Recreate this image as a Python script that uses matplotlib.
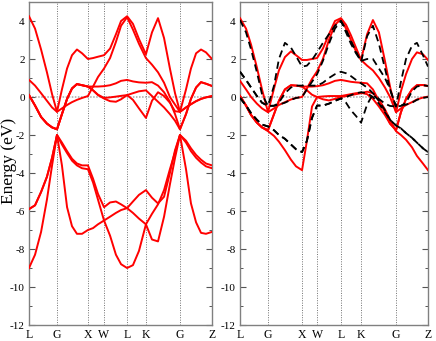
import numpy as np
import matplotlib
matplotlib.use('Agg')
import matplotlib.pyplot as plt

plt.rcParams['font.family'] = ['Liberation Serif', 'DejaVu Serif']
plt.rcParams['axes.unicode_minus'] = False

# ---------------- data ----------------
kpt_labels = ['L', 'G', 'X', 'W', 'L', 'K', 'G', 'Z']
kpt_left = [0.0, 0.153, 0.322, 0.410, 0.536, 0.639, 0.825, 1.0]
kpt_right = [0.0, 0.149, 0.330, 0.410, 0.537, 0.644, 0.830, 1.0]

k_left = [0.000, 0.033, 0.066, 0.098, 0.126, 0.153, 0.180, 0.208, 0.235, 0.262,
          0.290, 0.322, 0.350, 0.377, 0.410, 0.443, 0.475, 0.503, 0.536, 0.568,
          0.601, 0.639, 0.672, 0.705, 0.738, 0.770, 0.798, 0.825, 0.858, 0.885,
          0.913, 0.940, 0.967, 1.000]

left_b1 = [4.25, 3.6, 2.5, 1.3, 0.15, -0.78, 0.4, 1.5, 2.2, 2.5, 2.3, 2.0, 2.05, 2.12,
           2.2, 2.55, 3.3, 4.0, 4.25, 3.85, 3.05, 2.25, 3.4, 4.15, 3.1, 1.5, 0.2, -0.78,
           0.4, 1.5, 2.3, 2.5, 2.35, 2.0]
left_b2 = [0.9, 0.6, 0.2, -0.2, -0.55, -0.78, -0.6, -0.42, -0.27, -0.15, -0.05, 0.05,
           0.55, 1.05, 1.5, 2.05, 2.9, 3.75, 4.2, 3.55, 2.8, 2.05, 1.7, 1.3, 0.75, 0.0,
           -0.4, -0.78, -0.55, -0.38, -0.22, -0.1, -0.02, 0.05]
left_b3 = [0.1, -0.45, -1.05, -1.4, -1.6, -1.7, -0.9, -0.1, 0.45, 0.68, 0.62, 0.55,
           0.55, 0.55, 0.57, 0.62, 0.72, 0.85, 0.9, 0.82, 0.77, 0.75, 0.78, 0.6, 0.25,
           -0.25, -0.9, -1.7, -0.9, -0.1, 0.5, 0.78, 0.7, 0.58]
left_b4 = [0.1, -0.45, -1.05, -1.4, -1.6, -1.7, -0.9, -0.1, 0.45, 0.68, 0.62, 0.55,
           0.35, 0.1, -0.08, -0.22, -0.25, -0.12, 0.1, -0.15, -0.6, -1.1, -0.2, 0.25,
           0.05, -0.3, -0.75, -0.78, -0.55, -0.38, -0.22, -0.1, -0.02, 0.05]
left_b5 = [0.1, -0.45, -1.05, -1.4, -1.6, -1.7, -0.9, -0.1, 0.45, 0.68, 0.62, 0.55,
           0.35, 0.12, -0.05, -0.02, 0.02, 0.06, 0.1, 0.2, 0.3, 0.35, 0.05, -0.25,
           -0.55, -0.9, -1.25, -1.7, -0.9, -0.1, 0.5, 0.78, 0.7, 0.58]
left_b6 = [-5.9, -5.7, -5.0, -4.2, -3.2, -2.0, -2.4, -2.85, -3.25, -3.5, -3.6, -3.6,
           -4.3, -5.1, -5.8, -5.55, -5.5, -5.65, -5.85, -5.5, -5.15, -4.9, -5.3, -5.6,
           -5.25, -4.0, -2.8, -2.0, -2.3, -2.7, -3.05, -3.3, -3.5, -3.6]
left_b7 = [-5.9, -5.7, -5.0, -4.2, -3.2, -2.0, -2.5, -2.95, -3.35, -3.6, -3.75, -3.8,
           -4.5, -5.4, -6.5, -7.3, -8.3, -8.8, -9.0, -8.85, -8.1, -6.7, -6.15, -5.65,
           -4.9, -3.8, -2.9, -2.0, -2.4, -2.85, -3.2, -3.45, -3.65, -3.75]
left_b8 = [-9.0, -8.3, -7.1, -5.4, -3.6, -2.0, -3.6, -5.8, -6.8, -7.2, -7.2, -7.0,
           -6.9, -6.7, -6.5, -6.3, -6.1, -5.95, -5.85, -6.1, -6.4, -6.7, -7.5, -7.6,
           -6.3, -4.6, -3.2, -2.0, -3.8, -5.6, -6.6, -7.15, -7.2, -7.1]

k_right = [0.000, 0.032, 0.059, 0.090, 0.117, 0.149, 0.181, 0.207, 0.239, 0.271,
           0.298, 0.330, 0.356, 0.383, 0.410, 0.441, 0.473, 0.505, 0.537, 0.564,
           0.590, 0.617, 0.644, 0.676, 0.707, 0.739, 0.771, 0.798, 0.830, 0.856,
           0.883, 0.915, 0.941, 0.973, 1.000]

red_r1 = [4.15, 3.6, 2.75, 1.55, 0.4, -0.8, 0.45, 1.4, 2.1, 2.4, 2.2, 1.95, 1.95, 2.0,
          2.05, 2.55, 3.3, 4.0, 4.15, 3.8, 3.25, 2.6, 1.95, 3.3, 4.05, 3.4, 1.9, 0.55,
          -0.8, 0.3, 1.2, 2.0, 2.35, 2.25, 1.95]
red_r2 = [0.85, 0.4, 0.0, -0.35, -0.6, -0.8, -0.6, -0.42, -0.27, -0.13, -0.05, 0.0,
          0.45, 0.95, 1.35, 2.0, 3.0, 3.8, 4.1, 3.6, 3.0, 2.4, 1.95, 1.65, 1.4, 1.0, 0.5,
          0.0, -0.8, -0.6, -0.42, -0.27, -0.13, -0.03, 0.02]
red_r3 = [0.05, -0.45, -0.95, -1.35, -1.6, -1.75, -0.9, -0.2, 0.4, 0.62, 0.6, 0.55,
          0.55, 0.55, 0.57, 0.62, 0.72, 0.85, 0.9, 0.85, 0.8, 0.77, 0.75, 0.72, 0.4,
          -0.2, -0.8, -1.4, -1.75, -0.8, -0.1, 0.4, 0.62, 0.63, 0.58]
red_r4 = [0.05, -0.45, -0.95, -1.35, -1.6, -1.8, -2.05, -2.35, -2.8, -3.3, -3.65, -3.85,
          -2.3, -0.5, 0.0, -0.12, -0.18, -0.1, 0.0, 0.05, 0.1, 0.15, 0.2, 0.28, 0.2,
          -0.15, -0.65, -1.2, -1.8, -2.0, -2.25, -2.65, -3.1, -3.5, -3.85]
red_r5 = [0.05, -0.45, -0.95, -1.35, -1.6, -1.75, -0.9, -0.2, 0.4, 0.62, 0.6, 0.55,
          0.35, 0.12, 0.0, 0.03, 0.05, 0.05, 0.05, 0.1, 0.15, 0.2, 0.22, 0.15, -0.1,
          -0.5, -0.95, -1.4, -1.75, -0.8, -0.1, 0.4, 0.62, 0.63, 0.58]

dash_r1 = [4.05, 3.4, 2.5, 1.3, 0.15, -0.47, 0.6, 2.0, 2.85, 2.6, 2.15, 1.6, 1.65, 1.95,
           2.35, 2.85, 3.3, 3.75, 4.0, 3.55, 2.95, 2.4, 1.85, 3.2, 3.75, 2.8, 1.5, 0.4,
           -0.5, 0.8, 2.0, 2.7, 2.85, 2.2, 1.6]
dash_r2 = [1.33, 0.9, 0.5, 0.05, -0.3, -0.47, -0.47, -0.3, 0.2, 0.5, 0.6, 0.6, 0.6, 0.6,
           0.6, 0.75, 1.0, 1.2, 1.33, 1.25, 1.1, 0.9, 0.72, 0.5, 0.2, -0.1, -0.35, -0.47,
           -0.5, -0.47, -0.3, 0.3, 0.55, 0.62, 0.58]
dash_r3 = [-0.05, -0.45, -0.85, -1.2, -1.45, -1.55, -1.75, -2.0, -2.2, -2.5, -2.75, -2.9,
           -2.3, -1.1, -0.45, -0.45, -0.35, -0.2, -0.08, -0.3, -0.7, -1.0, -1.35, -0.4,
           0.15, -0.2, -0.7, -1.2, -1.5, -1.65, -1.9, -2.15, -2.4, -2.7, -2.9]
dash_r4 = [1.33, 0.9, 0.5, 0.05, -0.3, -0.47, -0.45, -0.4, -0.3, -0.15, -0.05, 0.0, 0.4,
           0.8, 1.2, 1.9, 2.8, 3.6, 4.0, 3.4, 2.8, 2.3, 1.9, 2.0, 2.0, 1.5, 1.0, 0.4,
           -0.5, -0.45, -0.4, -0.3, -0.15, -0.05, 0.0]
dash_r5 = [-0.05, -0.45, -0.85, -1.2, -1.45, -1.55, -1.75, -2.0, -2.2, -2.5, -2.75, -2.9,
           -2.3, -1.1, -0.45, -0.45, -0.35, -0.2, -0.08, 0.0, 0.1, 0.2, 0.25, 0.2, 0.0,
           -0.35, -0.8, -1.2, -1.5, -1.65, -1.9, -2.15, -2.4, -2.7, -2.9]

y_ticks = [-12, -10, -8, -6, -4, -2, 0, 2, 4]

# ---------------- figure ----------------
W, H = 436, 341
fig = plt.figure(figsize=(W / 100, H / 100), dpi=100)
ax1 = fig.add_axes([29 / W, 1 - 325 / H, 183 / W, 323 / H])
ax2 = fig.add_axes([240 / W, 1 - 325 / H, 188 / W, 323 / H])

red = '#ff0000'
for ax, kpts in ((ax1, kpt_left), (ax2, kpt_right)):
    ax.set_xlim(0, 1)
    ax.set_ylim(-12, 5)
    for kv in kpts[1:-1]:
        ax.axvline(kv, color='#707070', lw=0.7, ls=(0, (1, 1.5)), zorder=1)
    ax.axhline(0, color='#a8a8a8', lw=1.1, ls=(0, (1, 1)), zorder=1)
    ax.set_xticks(kpts)
    ax.set_xticklabels(kpt_labels)
    ax.set_yticks(y_ticks)
    ax.set_yticklabels([str(v) for v in y_ticks])
    ax.set_yticks(np.arange(-12, 5.5, 1), minor=True)
    ax.tick_params(axis='x', length=0, pad=3, labelsize=8.5)
    ax.tick_params(axis='y', which='major', direction='in', left=True, right=True,
                   length=4, width=0.8, color='#555555', labelsize=8, pad=3)
    ax.tick_params(axis='y', which='minor', direction='in', left=True, right=True,
                   length=2, width=0.7, color='#555555')
    for s in ax.spines.values():
        s.set_color('#808080')
        s.set_linewidth(1.0)

for b in (left_b1, left_b2, left_b3, left_b4, left_b5, left_b6, left_b7, left_b8):
    ax1.plot(k_left, b, color=red, lw=1.4, zorder=3, solid_joinstyle='round')

for b in (red_r1, red_r2, red_r3, red_r4, red_r5):
    ax2.plot(k_right, b, color=red, lw=1.4, zorder=3, solid_joinstyle='round')
for b in (dash_r1, dash_r2, dash_r3, dash_r4, dash_r5):
    ax2.plot(k_right, b, color='black', lw=1.3, ls=(0, (4, 2.5)), zorder=4)

fig.text(9 / W, 1 - 161 / H, 'Energy (eV)', rotation=90, ha='center', va='center',
         fontsize=12.5)

fig.savefig('out.png', dpi=100)
